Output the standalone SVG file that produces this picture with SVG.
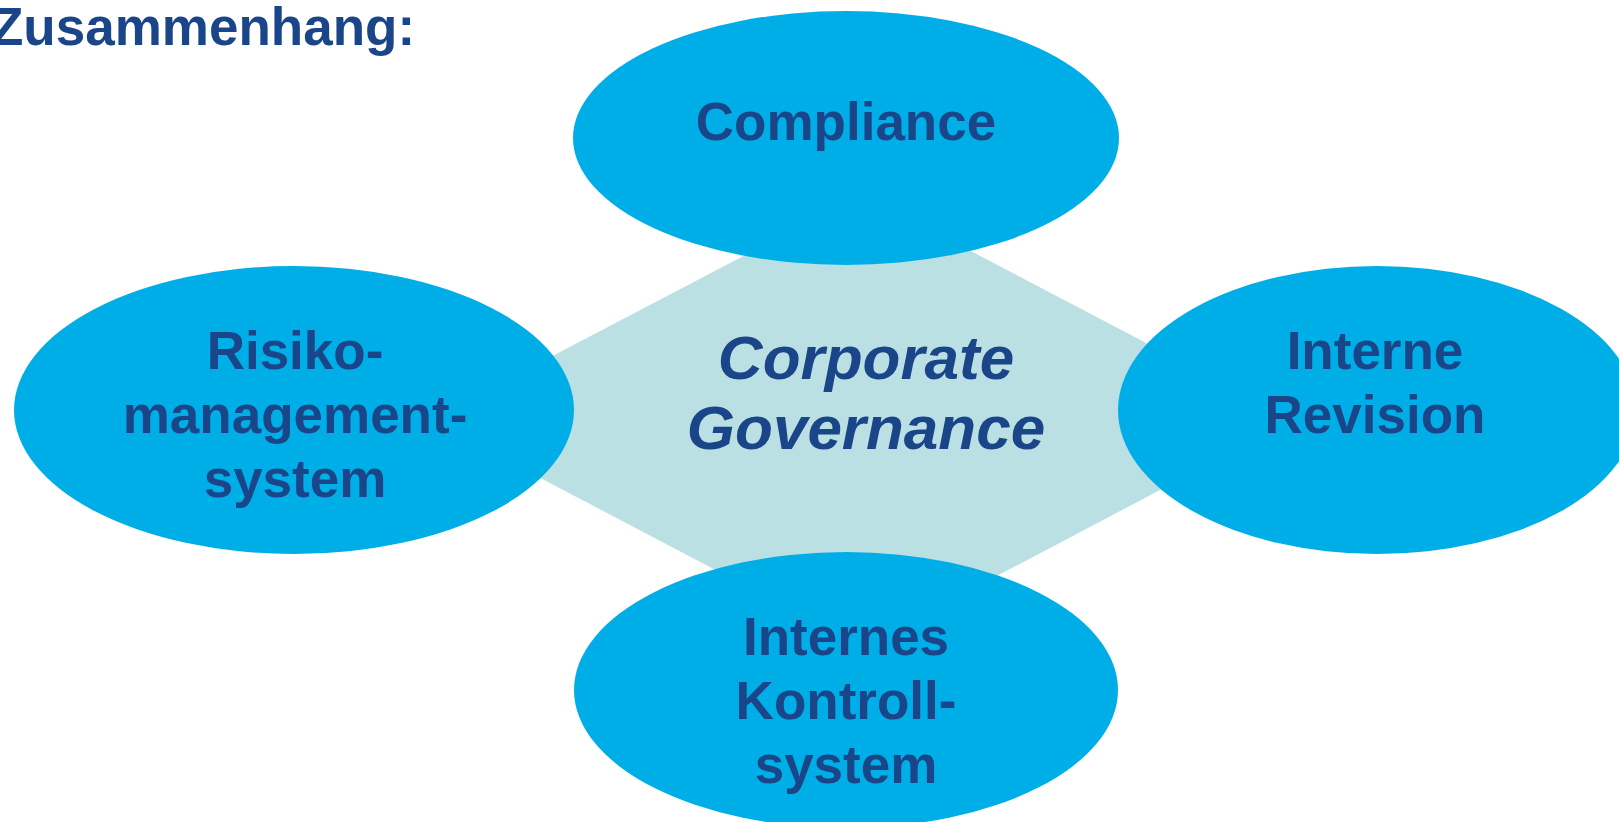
<svg xmlns="http://www.w3.org/2000/svg" width="1619" height="822" viewBox="0 0 1619 822">
  <style>
    .node { fill: #00AEE7; }
    .lbl { font-family: "Liberation Sans", Arial, sans-serif; font-weight: bold; font-size: 53px; fill: #1A4689; text-anchor: middle; }
    .center { font-family: "Liberation Sans", Arial, sans-serif; font-weight: bold; font-style: italic; font-size: 62px; fill: #1A4689; text-anchor: middle; }
    .title { font-family: "Liberation Sans", Arial, sans-serif; font-weight: bold; font-size: 53px; fill: #1A4689; }
  </style>
  <rect width="1619" height="822" fill="#FFFFFF"/>
  <text class="title" x="-9" y="45">Zusammenhang:</text>
  <g id="connectors">
    <polygon points="862,194 1293,420 862,647 430,420" fill="#BBE0E4"/>
  </g>
  <g id="corporate-governance">
    <text class="center" x="866" y="379">Corporate</text>
    <text class="center" x="866" y="449">Governance</text>
  </g>
  <g id="compliance">
    <ellipse class="node" cx="846" cy="138" rx="273" ry="127"/>
    <text class="lbl" x="846" y="140">Compliance</text>
  </g>
  <g id="risikomanagementsystem">
    <ellipse class="node" cx="294" cy="410" rx="280" ry="144"/>
    <text class="lbl" x="295" y="369">Risiko-</text>
    <text class="lbl" x="295" y="433">management-</text>
    <text class="lbl" x="295" y="497">system</text>
  </g>
  <g id="interne-revision">
    <ellipse class="node" cx="1377" cy="410" rx="259" ry="144"/>
    <text class="lbl" x="1375" y="369">Interne</text>
    <text class="lbl" x="1375" y="433">Revision</text>
  </g>
  <g id="internes-kontrollsystem">
    <ellipse class="node" cx="846" cy="690" rx="272" ry="138"/>
    <text class="lbl" x="846" y="655">Internes</text>
    <text class="lbl" x="846" y="719">Kontroll-</text>
    <text class="lbl" x="846" y="783">system</text>
  </g>
</svg>
